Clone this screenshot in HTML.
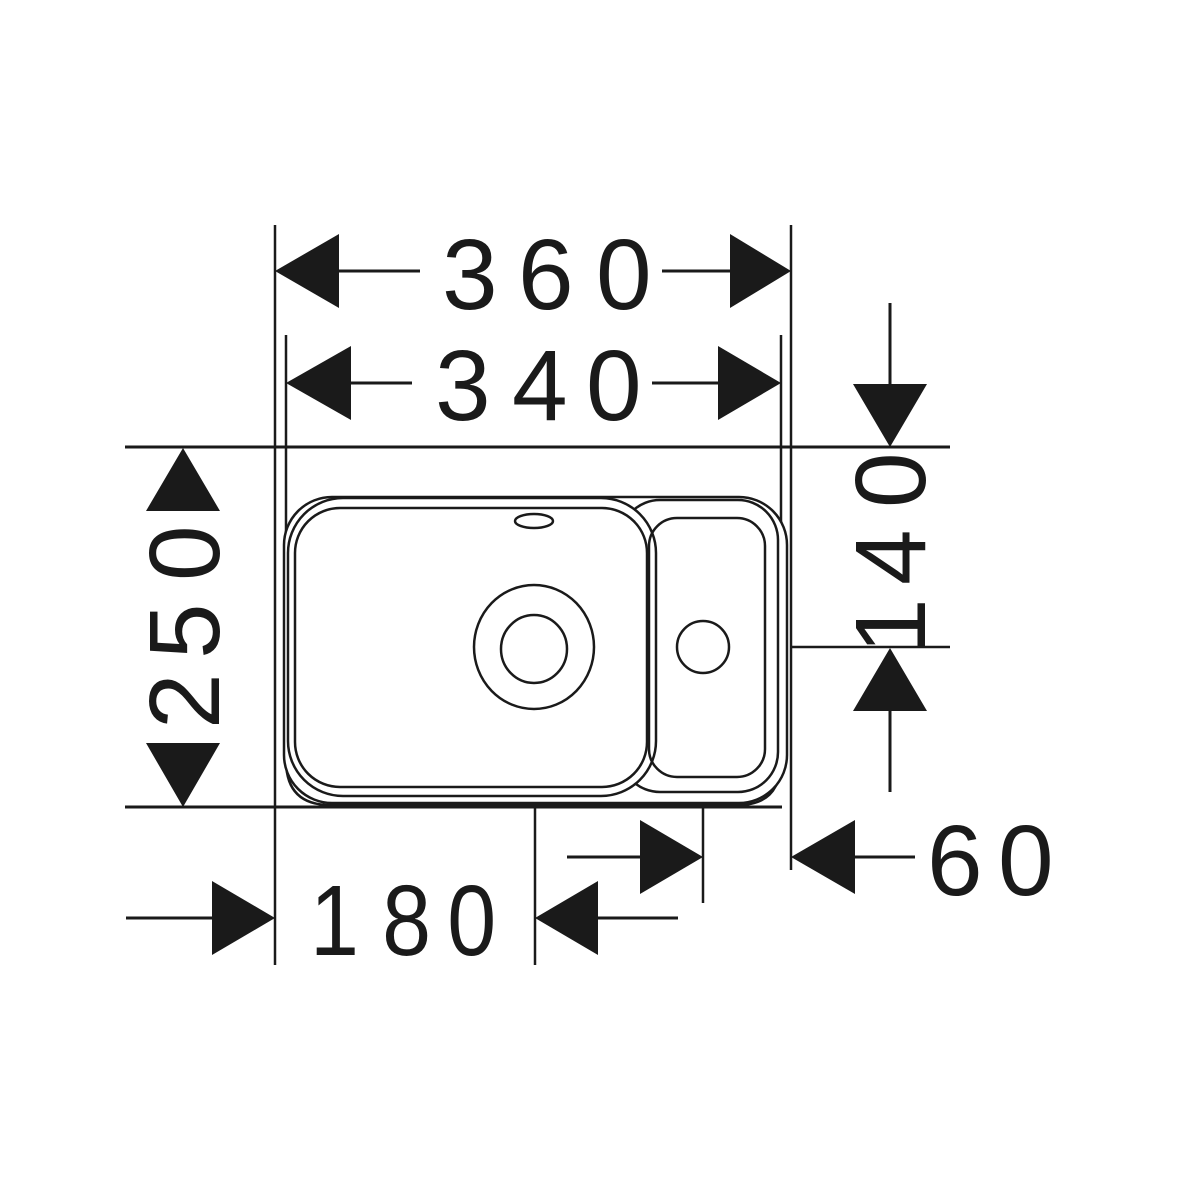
<!DOCTYPE html>
<html><head><meta charset="utf-8"><style>
html,body{margin:0;padding:0;background:#fff;}
svg{display:block;}
text{font-family:"Liberation Sans",sans-serif;font-size:100px;fill:#1a1a1a;}
</style></head><body>
<svg width="1200" height="1200" viewBox="0 0 1200 1200" xmlns="http://www.w3.org/2000/svg">
<g stroke="#1a1a1a" stroke-width="2.5" fill="none">
  <line x1="275" y1="225" x2="275" y2="965"/>
  <line x1="791" y1="225" x2="791" y2="870"/>
  <line x1="286" y1="335" x2="286" y2="760"/>
  <line x1="781" y1="335" x2="781" y2="760"/>
  <line x1="125" y1="447" x2="950" y2="447" stroke-width="3"/>
  <line x1="125" y1="807" x2="782" y2="807" stroke-width="3"/>
  <line x1="791" y1="647" x2="950" y2="647"/>
  <line x1="535" y1="800" x2="535" y2="965"/>
  <line x1="703" y1="808" x2="703" y2="903"/>
  <path d="M286,760 Q286,805 330,805 H738 Q781,805 781,760"/>
  <rect x="284" y="497" width="503" height="306" rx="48" fill="#fff"/>
  <rect x="620" y="500" width="158" height="292" rx="40" fill="#fff"/>
  <rect x="288" y="498" width="368" height="298" rx="55" fill="#fff"/>
  <rect x="295" y="508" width="352" height="279" rx="45"/>
  <rect x="649" y="518" width="116" height="259" rx="28"/>
  <ellipse cx="534" cy="521" rx="19" ry="7"/>
  <ellipse cx="534" cy="647" rx="60" ry="62"/>
  <ellipse cx="534" cy="649" rx="33" ry="34"/>
  <circle cx="703" cy="647" r="26"/>
  <line x1="339" y1="271" x2="420" y2="271" stroke-width="3"/>
  <line x1="662" y1="271" x2="730" y2="271" stroke-width="3"/>
  <line x1="351" y1="383" x2="412" y2="383" stroke-width="3"/>
  <line x1="652" y1="383" x2="718" y2="383" stroke-width="3"/>
  <line x1="890" y1="303" x2="890" y2="384" stroke-width="3"/>
  <line x1="890" y1="711" x2="890" y2="792" stroke-width="3"/>
  <line x1="126" y1="918" x2="212" y2="918" stroke-width="3"/>
  <line x1="598" y1="918" x2="678" y2="918" stroke-width="3"/>
  <line x1="567" y1="857" x2="640" y2="857" stroke-width="3"/>
  <line x1="855" y1="857" x2="915" y2="857" stroke-width="3"/>
</g>
<g fill="#1a1a1a">
  <polygon points="275,271 339,234 339,308"/>
  <polygon points="791,271 730,234 730,308"/>
  <polygon points="286,383 351,346 351,420"/>
  <polygon points="781,383 718,346 718,420"/>
  <polygon points="183,448 146,511 220,511"/>
  <polygon points="183,807 146,743 220,743"/>
  <polygon points="890,447 853,384 927,384"/>
  <polygon points="890,648 853,711 927,711"/>
  <polygon points="275,918 212,881 212,955"/>
  <polygon points="535,918 598,881 598,955"/>
  <polygon points="703,857 640,820 640,894"/>
  <polygon points="791,857 855,820 855,894"/>
</g>
<text x="442 518 596" y="309">360</text>
<text x="435 512 586" y="420">340</text>
<g transform="translate(310,955) scale(0.88,1)"><text x="0 82 156" y="0">180</text></g>
<text x="927 998" y="895">60</text>
<text transform="translate(219,725) rotate(-90)" x="-4 66 144" y="0">250</text>
<text transform="translate(925,640) rotate(-90)" x="-14 55 132" y="0">140</text>
</svg>
</body></html>
